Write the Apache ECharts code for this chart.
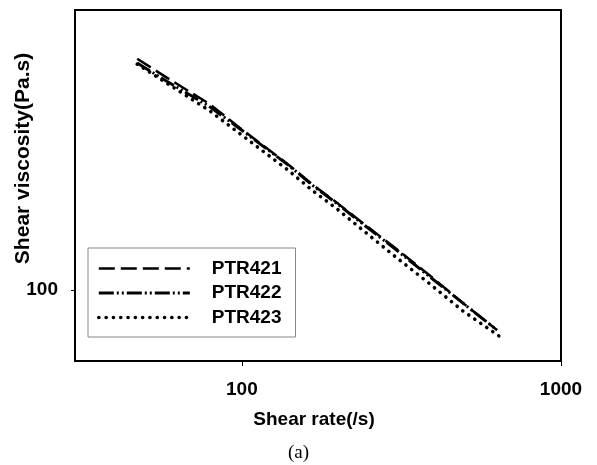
<!DOCTYPE html>
<html>
<head>
<meta charset="utf-8">
<script src="https://cdn.jsdelivr.net/npm/echarts@6/dist/echarts.min.js"></script>
<style>
  html, body { margin: 0; padding: 0; background: #fff; }
  #chart { width: 597px; height: 465px; }
</style>
</head>
<body>
<div id="chart"></div>
<script>
// datos (velocidad de corte / viscosidad)
const shearRate = [47, 58, 79, 99, 141, 167, 199, 239, 306, 388, 493, 630];
const shearRate423 = [47, 58, 79, 99, 141, 167, 199, 239, 306, 388, 493, 650];
const ptr421 = [528, 462, 382, 320, 245, 213, 187, 162, 134, 111, 91, 75];
const ptr422 = [512, 450, 375, 318, 244, 212, 186, 161, 133, 110, 91, 75];
const ptr423 = [508, 444, 364, 307, 235, 204, 179, 154, 126, 104.5, 86, 71];
const seriesNames = ['PTR421', 'PTR422', 'PTR423'];
const xTicks = [100, 1000];
const yTicks = [100];

const font = 'Liberation Sans, Arial, sans-serif';

// estilos de trazo (raya, raya-punto-punto, puntos)
const estilos = [
    { color: '#000', width: 2.5, type: [16, 6] },
    { color: '#000', width: 3, type: [15, 3, 2, 3, 2, 3] },
    { color: '#000', width: 3.6, type: [0.1, 7.2], cap: 'round' }
];

function pares(xs, ys) {
    return xs.map((x, i) => [x, ys[i]]);
}

const chart = echarts.init(document.getElementById('chart'));
chart.setOption({
    animation: false,
    backgroundColor: '#fff',
    grid: {
        left: 75, right: 36, top: 10, bottom: 104,
        outerBoundsMode: 'none',
        show: true, borderColor: '#000', borderWidth: 2
    },
    xAxis: {
        type: 'log', logBase: 10, min: 30, max: 1000,
        name: 'Shear rate(/s)', nameLocation: 'middle', nameGap: 49,
        nameMoveOverlap: false,
        nameTextStyle: { fontFamily: font, fontWeight: 'bold', fontSize: 19, color: '#000', padding: [0, 8, 0, 0] },
        axisLine: { lineStyle: { color: '#000', width: 2 } },
        axisTick: { length: 5, customValues: xTicks, lineStyle: { color: '#000', width: 1 } },
        axisLabel: { customValues: xTicks, formatter: v => String(v), margin: 19, fontFamily: font, fontWeight: 'bold', fontSize: 19, color: '#000' },
        splitLine: { show: false },
        minorTick: { show: false }
    },
    yAxis: {
        type: 'log', logBase: 10, min: 60, max: 750,
        name: 'Shear viscosity(Pa.s)', nameLocation: 'middle', nameGap: 41,
        nameMoveOverlap: false,
        nameTextStyle: { fontFamily: font, fontWeight: 'bold', fontSize: 21, color: '#000', padding: [0, 0, 0, 54] },
        axisLine: { lineStyle: { color: '#000', width: 2 } },
        axisTick: { length: 4, customValues: yTicks, lineStyle: { color: '#000', width: 1 } },
        axisLabel: { customValues: yTicks, formatter: v => String(v), margin: 17, fontFamily: font, fontWeight: 'bold', fontSize: 19, color: '#000' },
        splitLine: { show: false },
        minorTick: { show: false }
    },
    legend: {
        orient: 'vertical', left: 88, top: 248,
        data: seriesNames.map((n, i) => ({ name: n, lineStyle: estilos[i] })),
        itemWidth: 91, itemHeight: 14, itemGap: 5.5,
        padding: [11, 14, 10, 9],
        borderColor: '#888', borderWidth: 1, borderRadius: 0,
        itemStyle: { opacity: 0 },
        textStyle: { fontFamily: font, fontWeight: 'bold', fontSize: 19, color: '#000', lineHeight: 19, padding: [0, 0, 0, 17] }
    },
    series: [
        {
            name: 'PTR421', type: 'line', symbol: 'none', data: pares(shearRate, ptr421),
            itemStyle: { color: '#000' }, lineStyle: estilos[0]
        },
        {
            name: 'PTR422', type: 'line', symbol: 'none', data: pares(shearRate, ptr422),
            itemStyle: { color: '#000' }, lineStyle: estilos[1]
        },
        {
            name: 'PTR423', type: 'line', symbol: 'none', data: pares(shearRate423, ptr423),
            itemStyle: { color: '#000' }, lineStyle: estilos[2]
        }
    ],
    graphic: [{
        type: 'text', left: 'center', top: 444, x: 0,
        style: { text: '(a)', font: '19px Liberation Serif, Times New Roman, serif', fill: '#000' }
    }]
});
</script>
</body>
</html>
